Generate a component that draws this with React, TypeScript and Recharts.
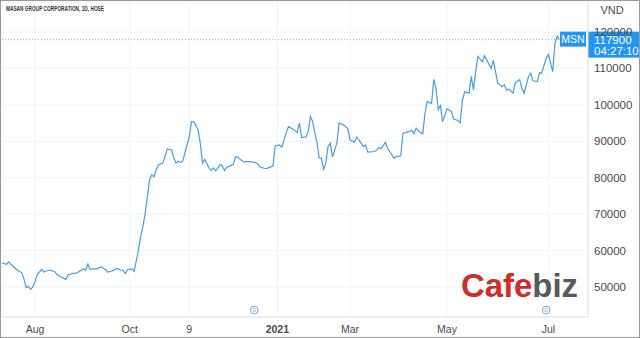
import { CartesianGrid, Line, LineChart, ReferenceLine, XAxis, YAxis } from 'recharts'

// trading-session index (0 = first bar shown) and close price in VND
const SESSIONS = [
  0, 2, 3, 5, 7, 9, 10, 11, 12, 13, 14, 15, 16, 18, 19, 20, 22, 24, 25, 27, 29, 30, 32, 34, 36, 37, 38, 39, 40, 41,
  43, 45, 47, 48, 50, 52, 54, 55, 56, 57, 59, 60, 61, 62, 63, 64, 65, 66, 67, 68, 69, 70, 71, 73, 74, 75, 77, 78, 79,
  80, 81, 82, 84, 85, 86, 87, 89, 90, 91, 92, 94, 95, 96, 97, 98, 99, 100, 101, 102, 103, 105, 106, 107, 108, 110,
  111, 114, 116, 117, 119, 120, 123, 124, 126, 127, 129, 130, 132, 134, 135, 136, 138, 139, 140, 141, 143, 144, 145,
  146, 147, 148, 149, 150, 152, 153, 155, 157, 158, 160, 161, 162, 164, 165, 166, 169, 170, 171, 172, 174, 175, 178,
  179, 181, 182, 185, 186, 187, 188, 190, 191, 192, 193, 195, 196, 197, 198, 199, 200, 202, 204, 205, 207, 208, 209,
  210, 212, 213, 214, 215, 216, 218, 219, 220, 222, 223, 224, 225, 227, 228, 229, 230, 232, 233, 235, 236, 237, 239,
  240, 241, 243, 244, 245, 247, 248, 249, 250, 251, 252, 253,
]
const PRICES = [
  56600, 56200, 56900, 55700, 54600, 53900, 52100, 49800, 50200, 49300, 50100, 51600, 53400, 54800, 54100, 54400,
  54600, 54200, 53400, 52700, 52100, 53300, 53700, 53900, 54600, 55000, 54600, 56300, 54800, 55000, 55000, 55500,
  54800, 54100, 54400, 55100, 54600, 54600, 53700, 54800, 55000, 54300, 57300, 60300, 64000, 66700, 70300, 74900,
  79500, 80800, 80200, 82200, 83500, 84000, 85800, 87900, 87600, 85400, 84000, 84500, 84200, 84500, 89000, 91300,
  95400, 95400, 93200, 89500, 84000, 85000, 82700, 82000, 82700, 81900, 82800, 83600, 83300, 82000, 82900, 83100,
  83600, 85800, 85700, 85100, 84200, 84500, 84300, 83900, 83000, 82600, 82500, 83200, 88700, 89000, 88400, 92300,
  94000, 93400, 92400, 95000, 91000, 91200, 92700, 96800, 95400, 89500, 85400, 85400, 82300, 84000, 88600, 89500,
  85700, 89500, 95000, 94500, 93400, 90400, 89700, 91200, 90400, 88600, 89000, 87000, 87200, 87500, 88300, 87900,
  89700, 88100, 85300, 85800, 86000, 92200, 92700, 93000, 92100, 93600, 92300, 92100, 97700, 100900, 100400, 107000,
  104500, 98700, 99800, 95400, 98900, 98200, 96100, 95700, 95100, 101300, 103600, 103200, 107800, 104100, 109100,
  113300, 111800, 113500, 112400, 110000, 112200, 109200, 106000, 105000, 105500, 104100, 104300, 103200, 106100,
  106900, 104500, 103200, 107800, 108700, 106600, 106400, 108800, 108700, 112800, 113800, 111400, 109100, 116900,
  118900, 117900,
]

const X_TICKS = [15, 58, 85, 125, 158, 202, 248]
const X_LABELS = ['Aug', 'Oct', '9', '2021', 'Mar', 'May', 'Jul']
const Y_TICKS = [50000, 60000, 70000, 80000, 90000, 100000, 110000, 120000]
const DIVIDEND_SESSIONS = [114.5, 247]

const TITLE = 'MASAN GROUP CORPORATION, 1D, HOSE'
const SYMBOL = 'MSN'
const LAST_PRICE = 117900
const LAST_TIME = '04:27:10'
const CURRENCY = 'VND'

const data = SESSIONS.map((s, i) => ({ session: s, price: PRICES[i] }))

const FONT = '"Liberation Sans", Arial, sans-serif'
const BLUE = '#2196f3'
const LINE = '#4a9edb'
const BORDER = '#e0e3eb'

function XTick({ x, y, payload }: any) {
  const idx = X_TICKS.indexOf(payload.value)
  const label = X_LABELS[idx] ?? ''
  return (
    <text
      x={x}
      y={y + 16}
      textAnchor="middle"
      fontFamily={FONT}
      fontSize={10.5}
      fontWeight={label === '2021' ? 700 : 400}
      fill="#4a4a4a"
    >
      {label}
    </text>
  )
}

function YTick({ x, y, payload }: any) {
  return (
    <text x={x + 6} y={y + 4} textAnchor="start" fontFamily={FONT} fontSize={11.5} fill="#4a4a4a">
      {payload.value}
    </text>
  )
}

function PriceTag({ viewBox }: any) {
  const { x, y, width } = viewBox
  const right = x + width
  return (
    <g>
      <rect x={right - 28} y={y - 8} width={26} height={15} fill={BLUE} />
      <text x={right - 15} y={y + 3.5} textAnchor="middle" fontFamily={FONT} fontSize={10.5} fill="#fff">
        {SYMBOL}
      </text>
      <rect x={right} y={y - 8} width={51} height={26} fill={BLUE} />
      <text x={right + 6} y={y + 4} fontFamily={FONT} fontSize={11.5} fill="#fff">
        {LAST_PRICE}
      </text>
      <text x={right + 6} y={y + 15} fontFamily={FONT} fontSize={11.5} fill="#fff">
        {LAST_TIME}
      </text>
    </g>
  )
}

function DividendMark({ viewBox }: any) {
  const { x, y, height } = viewBox
  const cy = y + height - 7
  return (
    <g>
      <circle cx={x} cy={cy} r={3.8} fill="#fff" stroke="#7aa5e6" strokeWidth={1} />
      <text x={x} y={cy + 1.8} textAnchor="middle" fontFamily={FONT} fontSize={5} fill="#7aa5e6">
        D
      </text>
    </g>
  )
}

export default function App() {
  return (
    <div
      style={{
        position: 'absolute',
        left: 0,
        top: 0,
        width: 640,
        height: 338,
        boxSizing: 'border-box',
        border: '1px solid #9a9a9a',
        background: '#fff',
      }}
    >
      <LineChart
        width={638}
        height={336}
        data={data}
        margin={{ top: 1, right: 0, bottom: 1, left: 1 }}
      >
        <CartesianGrid stroke="#f1f3f6" />
        <XAxis
          dataKey="session"
          type="number"
          domain={[0, 266]}
          ticks={X_TICKS}
          tick={<XTick />}
          tickSize={0}
          tickMargin={0}
          axisLine={{ stroke: BORDER }}
          tickLine={false}
          height={19}
          allowDataOverflow
        />
        <YAxis
          orientation="right"
          domain={[41770, 128230]}
          ticks={Y_TICKS}
          tick={<YTick />}
          tickSize={0}
          tickMargin={0}
          axisLine={{ stroke: BORDER }}
          tickLine={false}
          width={51}
          allowDataOverflow
        />
        <ReferenceLine y={LAST_PRICE} stroke="#7dbdf0" strokeDasharray="1 2" label={<PriceTag />} />
        {DIVIDEND_SESSIONS.map((s) => (
          <ReferenceLine key={s} x={s} stroke="none" strokeOpacity={0} label={<DividendMark />} />
        ))}
        <Line
          dataKey="price"
          type="linear"
          stroke={LINE}
          strokeWidth={1.2}
          dot={false}
          isAnimationActive={false}
        />
      </LineChart>
      <svg
        width={638}
        height={336}
        style={{ position: 'absolute', left: 0, top: 0, pointerEvents: 'none' }}
      >
        <text x={5} y={10} fontFamily={FONT} fontSize={7} fontWeight={700} fill="#333" textLength={98} lengthAdjust="spacingAndGlyphs">
          {TITLE}
        </text>
        <text x={611} y={13} textAnchor="middle" fontFamily={FONT} fontSize={11} fill="#4a4a4a">
          {CURRENCY}
        </text>
        <text
          x={460}
          y={296}
          fontFamily={FONT}
          fontSize={34}
          fontWeight={700}
          textLength={117}
          lengthAdjust="spacingAndGlyphs"
        >
          <tspan fill="#d32a2a">Cafe</tspan>
          <tspan fill="#58595b">biz</tspan>
        </text>
      </svg>
    </div>
  )
}
